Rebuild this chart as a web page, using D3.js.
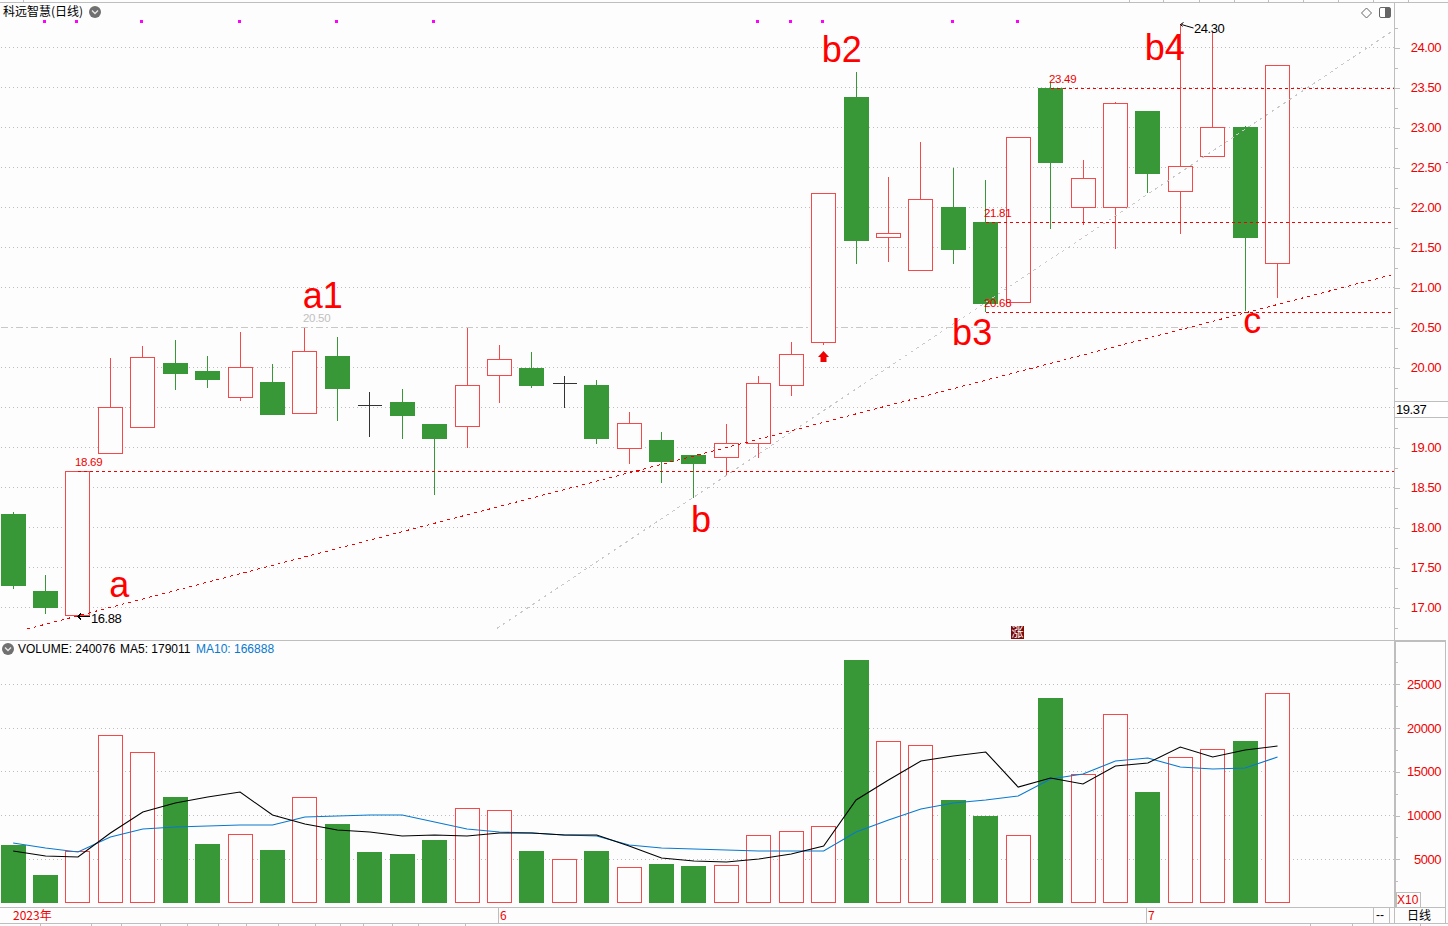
<!DOCTYPE html>
<html><head><meta charset="utf-8">
<script src="https://d3js.org/d3.v7.min.js"></script>
<style>
html,body{margin:0;padding:0;background:#fdfdfd;overflow:hidden}
svg{display:block}
text{font-family:"Liberation Sans",Arial,sans-serif}
.cjk{font-family:"Noto Sans CJK SC",sans-serif}
.num{font-size:13px;letter-spacing:-.45px}
</style></head><body>
<script>
// ---- Candles (prices) ----
const openP  = [18.16,17.20,16.90,18.92,19.25,20.05,19.95,19.62,19.81,19.43,20.14,19.52,19.56,19.29,19.26,19.90,19.99,19.80,19.78,18.99,19.09,18.90,18.87,19.05,19.78,20.31,23.38,21.63,21.21,22.00,21.81,20.81,23.49,22.00,22.00,23.20,22.20,22.64,23.00,21.30];
const closeP = [17.28,17.00,18.70,19.50,20.13,19.93,19.85,20.00,19.41,20.20,19.74,19.52,19.40,19.11,19.78,20.10,19.78,19.80,19.11,19.30,18.82,18.80,19.05,19.80,20.16,22.18,21.59,21.68,22.10,21.48,20.80,22.88,22.56,22.36,23.30,22.43,22.51,23.00,21.62,23.78];
const highP  = [18.20,17.41,18.70,20.12,20.27,20.35,20.15,20.45,20.05,20.50,20.38,19.70,19.73,19.30,20.50,20.28,20.20,19.90,19.85,19.45,19.20,18.90,19.30,19.90,20.32,22.18,23.69,22.38,22.82,22.50,22.35,22.88,23.57,22.59,23.32,23.20,24.30,24.20,23.02,23.78];
const lowP   = [17.23,16.92,16.88,18.92,19.25,19.72,19.75,19.58,19.41,19.43,19.33,19.13,19.11,18.41,19.00,19.56,19.74,19.50,19.05,18.80,18.56,18.37,18.66,18.87,19.65,20.28,21.30,21.32,21.21,21.30,20.69,20.81,21.73,21.78,21.48,22.18,21.67,22.64,20.71,20.87];
// ---- Volume pane ----
const volume = [6630,3200,5940,19200,17260,12100,6740,7880,6060,12110,9030,5830,5600,7200,10860,10630,5940,5030,5940,4110,4460,4230,4340,7770,8230,8800,27770,18510,18060,11770,9940,7770,23430,14740,21600,12690,16690,17600,18510,24000];
const ma5  = [5943,5371,5257,8000,10400,11429,12114,12686,10057,9029,8343,8114,7657,7771,7657,8000,8000,7771,7771,6514,5143,4800,4686,5029,5600,6514,11771,14057,16229,16800,17257,13257,14286,13600,15657,16000,17829,16686,17486,17943];
const ma10 = [6857,6286,5829,7543,8457,8686,8800,8914,8914,9829,9943,10057,10057,9257,8457,8114,8000,7771,7657,6629,6286,6171,6057,5943,5943,5943,8114,9486,10743,11429,11771,12229,14171,14743,16229,16571,15543,15314,15429,16686];
const hollowDojiVolume = [17];
// ---- Ticks and labels ----
const priceTicks = [17,17.5,18,18.5,19,19.5,20,20.5,21,21.5,22,22.5,23,23.5,24];
const priceMinor = [16.75,17.25,17.75,18.25,18.75,19.25,19.75,20.25,20.75,21.25,21.75,22.25,22.75,23.25,23.75,24.25];
const volTicks = [5000,10000,15000,20000,25000];
const volMinor = [2500,7500,12500,17500,22500,27500];
const monthIdx = [0,15,35];
const monthLabels = ["2023年","6","7"];
const signalIdx = [1,2,4,7,10,13,23,24,25,29,31];
const annoNames = ["a","a1","b","b2","b3","b4","c"];
const annoIdx   = [3.27,9.55,21.22,25.56,29.58,35.52,38.22];
const annoPrice = [17.13,20.75,17.94,23.82,20.28,23.84,20.43];
const levelValues = [18.70,23.49,21.81,20.69];
const levelFrom = [2,32,30,30];
const levelText = ["18.69","23.49","21.81","20.68"];
const redTrendI = [0.42,42.54]; const redTrendP = [16.73,21.16];
const grayTrendI = [14.93,42.56]; const grayTrendP = [16.74,24.21];

const W=1448,H=926,axisX=1394.5;
const BG="#fdfdfd",GREEN="#389838",RED="#f64848",FRAME="#bebebe",GRID="#bdbdbd",LBL="#f00000";

const svg=d3.select("body").append("svg").attr("width",W).attr("height",H).attr("viewBox",`0 0 ${W} ${H}`);
svg.append("rect").attr("width",W).attr("height",H).attr("fill",BG);

const days=d3.range(openP.length);
const xRaw=d3.scalePoint().domain(days).range([13.15,1277.53]);
const x=i=>Math.floor(xRaw(i))+.5;
const xLin=d3.scaleLinear().domain([0,days.length-1]).range([13.15,1277.53]);
const y=d3.scaleLinear().domain([17,24]).range([607.5,47.5]);
const yV=d3.scaleLinear().domain([0,25000]).range([903,684.3]);
const crisp=s=>s.attr("shape-rendering","crispEdges");

const line=(g,x1,y1,x2,y2,c=FRAME,w=1)=>crisp(g.append("line").attr("x1",x1).attr("y1",y1).attr("x2",x2).attr("y2",y2).attr("stroke",c).attr("stroke-width",w));
const fr=svg.append("g");

// grid
const gridG=svg.append("g").attr("stroke",GRID).attr("stroke-dasharray","1 3");
priceTicks.filter(t=>t!==20.5).forEach(t=>crisp(gridG.append("line").attr("x1",1).attr("x2",axisX-1).attr("y1",y(t)).attr("y2",y(t))));
volTicks.forEach(t=>crisp(gridG.append("line").attr("x1",1).attr("x2",axisX-1).attr("y1",Math.floor(yV(t))+.5).attr("y2",Math.floor(yV(t))+.5)));
crisp(svg.append("line").attr("x1",1).attr("x2",axisX).attr("y1",y(20.5)).attr("y2",y(20.5)).attr("stroke","#c8c8c8").attr("stroke-dasharray","7 3 2 3"));

// candles
const isUp=i=>closeP[i]>openP[i], isDoji=i=>closeP[i]===openP[i];
const candleColor=i=>isDoji(i)?"#333":isUp(i)?RED:GREEN;
const c=svg.append("g").selectAll("g").data(days).join("g");
crisp(c.append("line").attr("x1",x).attr("x2",x).attr("y1",i=>y(highP[i])).attr("y2",i=>y(lowP[i])).attr("stroke",candleColor));
c.each(function(i){
  const g=d3.select(this),top=Math.floor(y(Math.max(openP[i],closeP[i]))),bot=Math.floor(y(Math.min(openP[i],closeP[i])));
  if(isDoji(i)) line(g,x(i)-12,top+.5,x(i)+12,top+.5,"#333");
  else if(isUp(i)) crisp(g.append("rect").attr("x",x(i)-12).attr("width",24).attr("y",top+.5).attr("height",bot-top).attr("fill",BG).attr("stroke",RED));
  else crisp(g.append("rect").attr("x",x(i)-12.5).attr("width",25).attr("y",top).attr("height",bot-top+1).attr("fill",GREEN));
});

// trend lines
const trend=(is,ps,col)=>crisp(svg.append("line").attr("x1",xLin(is[0])).attr("y1",y(ps[0])).attr("x2",xLin(is[1])).attr("y2",y(ps[1])).attr("stroke",col).attr("stroke-width",1).attr("stroke-dasharray","3 4"));
trend(grayTrendI,grayTrendP,"#c8c8c8");
trend(redTrendI,redTrendP,"#f00000");

// level lines + labels
levelValues.forEach((v,k)=>{
  const yy=Math.floor(y(v))+.5;
  crisp(svg.append("line").attr("x1",x(levelFrom[k])).attr("x2",axisX-1).attr("y1",yy).attr("y2",yy).attr("stroke","#f00000").attr("stroke-dasharray","3 3"));
});
const lblPos=[[75,466],[1049,83],[984,217],[984,307]];
levelText.forEach((t,k)=>svg.append("text").attr("x",lblPos[k][0]).attr("y",lblPos[k][1]).attr("fill",LBL).style("font-size","11.5px").style("letter-spacing","-.3px").text(t));
svg.append("text").attr("x",303).attr("y",322).attr("fill","#c0c0c0").style("font-size","11.5px").style("letter-spacing","-.3px").text("20.50");

// signals
svg.append("g").selectAll("rect").data(signalIdx).join("rect").attr("x",i=>x(i)-2.5).attr("y",20).attr("width",3).attr("height",3).attr("fill","#ff00ff").attr("shape-rendering","crispEdges");

// buy arrow
svg.append("path").attr("d",d3.line()([[x(25),351],[x(25)+5.5,357],[x(25)+3,357],[x(25)+3,362],[x(25)-3,362],[x(25)-3,357],[x(25)-5.5,357]])+"Z").attr("fill","#f00000");

// high/low callouts
const hiX=x(36);
svg.append("path").attr("d",`M${hiX+13},28 L${hiX+6},26 L${hiX+1},24.5 M${hiX+3},22.5 L${hiX},24.5 L${hiX+2},26.5`).attr("fill","none").attr("stroke","#000");
svg.append("text").attr("class","num").attr("x",1194).attr("y",33).attr("fill","#000").text("24.30");
svg.append("path").attr("d",`M90,616.5 L78,616.5 M81,613.5 L78,616.5 L81,619.5`).attr("fill","none").attr("stroke","#000").attr("shape-rendering","crispEdges");
svg.append("text").attr("class","num").attr("x",91).attr("y",622.5).attr("fill","#000").text("16.88");

// big annotations
annoNames.forEach((t,k)=>svg.append("text").attr("x",xLin(annoIdx[k])).attr("y",y(annoPrice[k])).attr("fill","#ff0000").attr("text-anchor","middle").style("font-size","36px").text(t));

// volume
const v=svg.append("g").selectAll("g").data(days).join("g");
v.each(function(i){
  const g=d3.select(this),t=Math.round(yV(volume[i]));
  if(isUp(i)||hollowDojiVolume.includes(i)) crisp(g.append("rect").attr("x",x(i)-12).attr("width",24).attr("y",t+.5).attr("height",902.5-t-.5).attr("fill",BG).attr("stroke",RED));
  else crisp(g.append("rect").attr("x",x(i)-12.5).attr("width",25).attr("y",t).attr("height",903-t).attr("fill",GREEN));
});
const lineGen=d3.line().x((d,i)=>xRaw(i)).y(d=>yV(d));
svg.append("path").attr("d",lineGen(ma10)).attr("fill","none").attr("stroke","#0878d0").attr("stroke-width",1.1);
svg.append("path").attr("d",lineGen(ma5)).attr("fill","none").attr("stroke","#000").attr("stroke-width",1.1);

// frame lines
line(fr,0,2.5,W,2.5);
line(fr,0,640.5,axisX,640.5);
line(fr,axisX,2,axisX,923);
line(fr,axisX+1,641,axisX+1,907);
line(fr,axisX,640.5,1445.5,640.5,FRAME,2);
line(fr,1445.5,641,1445.5,923);
line(fr,0,907.5,1445,907.5);
line(fr,0,923.5,W,923.5);
line(fr,1373.5,907,1373.5,923);
line(fr,1389.5,907,1389.5,923);
// month strip
monthIdx.forEach((i,k)=>{
  if(k) line(fr,x(i)-1,907,x(i)-1,923);
  svg.append("text").attr("class","cjk").attr("x",k?x(i)+.5:13).attr("y",920).attr("fill","#f00000").style("font-size","12px").text(monthLabels[k]);
});
svg.append("text").attr("x",1376).attr("y",919).attr("fill","#000").style("font-size","12px").text("--");
svg.append("text").attr("class","cjk").attr("x",1407).attr("y",920).attr("fill","#000").style("font-size","12px").text("日线");

// neighbouring-window ticks
const topTabs=[23,1129,1163,1199,1234,1268,1303,1338,1373,1408];
const botTabs=[40,91,121,160,187,218,246,278,315,340,363,392,418,465,1310,1352,1420];
topTabs.forEach(t=>line(fr,t+.5,0,t+.5,2));
botTabs.forEach(t=>line(fr,t+.5,924,t+.5,926));
line(fr,1446,162.5,1448,162.5,"#ff3090");

// axes
function styleAxis(g){
  g.select(".domain").remove();
  g.selectAll("line").attr("stroke",FRAME).attr("shape-rendering","crispEdges");
  g.selectAll("text").attr("x",1441-1395).attr("text-anchor","end").attr("fill","#f00000").attr("class","num");
}
const priceFmt=d3.format(".2f");
svg.append("g").attr("transform","translate(1395,0)").call(d3.axisRight(y).tickValues(priceTicks).tickFormat(t=>t===19.5?"":priceFmt(t)).tickSize(5)).call(styleAxis);
svg.append("g").attr("transform","translate(1395,0)").call(d3.axisRight(y).tickValues(priceMinor).tickFormat("").tickSize(3)).call(styleAxis);
svg.append("g").attr("transform","translate(1395,0)").call(d3.axisRight(yV).tickValues(volTicks).tickFormat(d3.format("d")).tickSize(5)).call(styleAxis);
svg.append("g").attr("transform","translate(1395,0)").call(d3.axisRight(yV).tickValues(volMinor).tickFormat("").tickSize(3)).call(styleAxis);

// last-price tag
crisp(svg.append("rect").attr("x",1395).attr("y",402).attr("width",53).attr("height",15).attr("fill","#fff"));
svg.append("g").call(g=>{line(g,1395,401.5,W,401.5);line(g,1395,417.5,W,417.5);});
svg.append("text").attr("class","num").attr("x",1396).attr("y",414).attr("fill","#000").text("19.37");

// X10 box
crisp(svg.append("rect").attr("x",1396.5).attr("y",892.5).attr("width",24).attr("height",15).attr("fill",BG).attr("stroke",FRAME));
svg.append("text").attr("x",1397).attr("y",903.5).attr("fill","#f00000").style("font-size","12px").text("X10");

// header
svg.append("text").attr("class","cjk").attr("x",3).attr("y",16).attr("fill","#000").style("font-size","12px").text("科远智慧(日线)");
const chev=(cx,cy)=>{
  svg.append("circle").attr("cx",cx).attr("cy",cy).attr("r",6).attr("fill","#707070");
  svg.append("path").attr("d",`M${cx-3},${cy-1.5} L${cx},${cy+1.5} L${cx+3},${cy-1.5}`).attr("fill","none").attr("stroke","#e8e8e8").attr("stroke-width",1.3);
};
chev(95,12); chev(8,649);
svg.append("text").attr("x",18).attr("y",653).attr("fill","#000").style("font-size","12px").text("VOLUME: 240076");
svg.append("text").attr("x",120).attr("y",653).attr("fill","#000").style("font-size","12px").text("MA5: 179011");
svg.append("text").attr("x",196).attr("y",653).attr("fill","#0878d0").style("font-size","12px").text("MA10: 166888");
// toolbar icons
svg.append("path").attr("d","M1366.5,8 L1371.5,13 L1366.5,18 L1361.5,13 Z").attr("fill","none").attr("stroke","#666");
svg.append("rect").attr("x",1379.5).attr("y",7.5).attr("width",11).attr("height",10).attr("rx",1.5).attr("fill","#fff").attr("stroke","#666");
crisp(svg.append("rect").attr("x",1385).attr("y",8).attr("width",5).attr("height",9).attr("fill","#666"));
// limit-up badge
crisp(svg.append("rect").attr("x",1011).attr("y",626).attr("width",13).attr("height",13).attr("fill","#7a0a0a"));
svg.append("text").attr("class","cjk").attr("x",1017.5).attr("y",637).attr("text-anchor","middle").attr("fill","#fff").style("font-size","12px").text("涨");
</script>
</body></html>
